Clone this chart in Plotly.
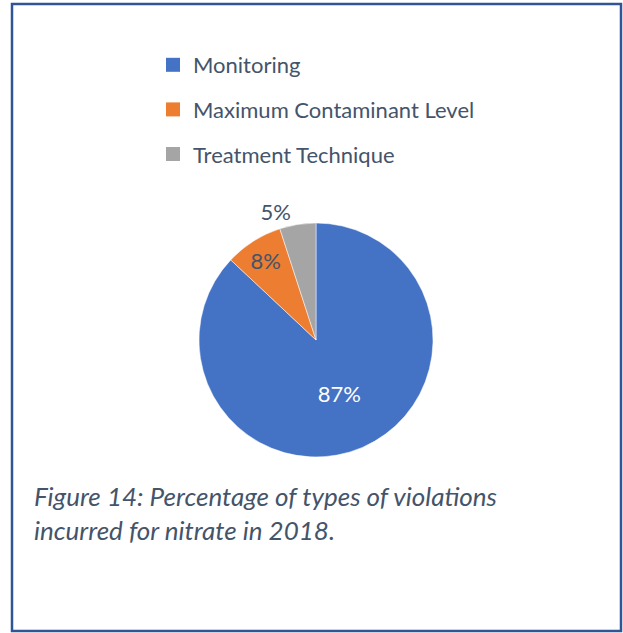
import plotly.graph_objects as go

# violation types for nitrate, 2018
labels = ['Monitoring', 'Maximum Contaminant Level', 'Treatment Technique']
values = [87, 8, 5]
colors = ['#4472C4', '#ED7D31', '#A5A5A5']
caption = 'Figure 14: Percentage of types of violations<br>incurred for nitrate in 2018.'

W, H = 623, 633
txt = '#44546A'

fig = go.Figure()

fig.add_trace(go.Pie(
    labels=labels,
    values=values,
    sort=False,
    direction='clockwise',
    rotation=0,
    marker=dict(colors=colors, line=dict(color='white', width=0.5)),
    texttemplate='%{percent:.0%}',
    textposition=['inside', 'inside', 'outside'],
    insidetextorientation='horizontal',
    textfont=dict(size=22, color=['white', txt, txt]),
    outsidetextfont=dict(size=22, color=txt),
    showlegend=False,
    hoverinfo='label+percent',
    domain=dict(x=[199 / W, 433 / W], y=[1 - 457 / H, 1 - 223 / H]),
))

# legend entries (one group each so the rows can be spaced out)
for name, c in zip(labels, colors):
    fig.add_trace(go.Scatter(
        x=[None], y=[None], mode='markers', name=name,
        legendgroup=name,
        marker=dict(symbol='square', size=14, color=c),
    ))

fig.update_layout(
    width=W, height=H,
    margin=dict(l=0, r=0, t=0, b=0),
    paper_bgcolor='white',
    plot_bgcolor='white',
    font=dict(family='Lato, Noto Sans, sans-serif', color=txt),
    xaxis=dict(visible=False),
    yaxis=dict(visible=False),
    legend=dict(
        x=153 / W, y=1 - 44 / H, xanchor='left', yanchor='top',
        font=dict(size=22, color=txt),
        tracegroupgap=13,
        itemwidth=30,
        bgcolor='rgba(0,0,0,0)',
    ),
    annotations=[dict(
        text=caption, x=32 / W, y=1 - 478 / H, xref='paper', yref='paper',
        xanchor='left', yanchor='top', align='left', showarrow=False,
        font=dict(size=26, color=txt, family='Lato, Noto Sans, sans-serif', style='italic'),
    )],
    shapes=[dict(
        type='rect', xref='paper', yref='paper',
        x0=12 / W, x1=621 / W, y0=1 - 631 / H, y1=1 - 4 / H,
        line=dict(color='#2F5597', width=2.5),
    )],
)

# drop the page's default body margin so the figure sits at the window's corner
fig.write_html('out.html', config={'displayModeBar': False},
               post_script="document.body.style.margin='0px';")
